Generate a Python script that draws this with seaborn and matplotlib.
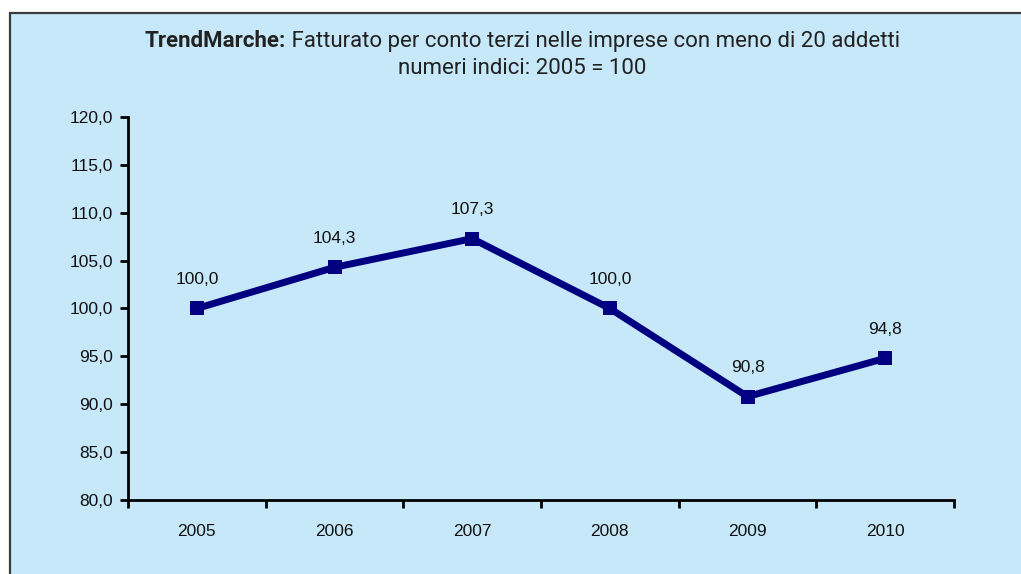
import matplotlib
matplotlib.use("Agg")
import matplotlib.pyplot as plt
from matplotlib.patches import Rectangle
from matplotlib.ticker import FuncFormatter
import pandas as pd
import seaborn as sns

years = ["2005", "2006", "2007", "2008", "2009", "2010"]
index_values = [100.0, 104.3, 107.3, 100.0, 90.8, 94.8]

title_bold = "TrendMarche:"
title_rest = "Fatturato per conto terzi nelle imprese con meno di 20 addetti"
subtitle = "numeri indici: 2005 = 100"

bg = "#C6E8F8"
navy = "#000080"

sns.set_theme(style="white")
plt.rcParams["font.family"] = ["Liberation Sans", "DejaVu Sans"]

df = pd.DataFrame({"anno": years, "indice": index_values})
df["pos"] = range(len(years))

fig = plt.figure(figsize=(10.21, 5.74), dpi=100)
fig.patch.set_facecolor("white")
fig.patches.append(Rectangle((10 / 1021, -0.05), 1.1, 1 - 13 / 574 + 0.05,
                             transform=fig.transFigure, facecolor=bg,
                             edgecolor="#3c3c3c", lw=1.6, zorder=-10))

ax = fig.add_axes([128 / 1021, 1 - 500 / 574, 826 / 1021, 383 / 574])
ax.set_facecolor("none")
ax.set_zorder(5)

sns.lineplot(data=df, x="pos", y="indice", ax=ax, color=navy, lw=5,
             marker="s", markersize=10, markeredgewidth=0, markerfacecolor=navy)

for x, y in zip(df["pos"], df["indice"]):
    ax.annotate(f"{y:.1f}".replace(".", ","), (x, y), xytext=(0, 21),
                textcoords="offset points", ha="center", va="center",
                fontsize=12.5, color="#111111")

ax.set_xlim(-0.5, len(years) - 0.5)
ax.set_ylim(80, 120)
ax.set_yticks(range(80, 121, 5))
ax.yaxis.set_major_formatter(FuncFormatter(lambda v, p: f"{v:.1f}".replace(".", ",")))

ax.set_xticks([i - 0.5 for i in range(len(years) + 1)])
ax.set_xticklabels([])
ax.set_xticks(range(len(years)), minor=True)
ax.set_xticklabels(years, minor=True)
ax.tick_params(axis="x", which="major", length=6, width=2, direction="out", color="black")
ax.tick_params(axis="x", which="minor", length=0, pad=17, labelsize=12.5, labelcolor="#111111")
ax.tick_params(axis="y", length=6, width=2, direction="out", color="black",
               labelsize=12.5, labelcolor="#111111", pad=5, left=True)
ax.tick_params(axis="x", which="major", bottom=True)

for side in ["top", "right"]:
    ax.spines[side].set_visible(False)
for side in ["left", "bottom"]:
    ax.spines[side].set_linewidth(2)
    ax.spines[side].set_color("black")

ax.set_xlabel("")
ax.set_ylabel("")

# title: bold lead-in plus regular text, centred as one line
tfont = ["Roboto", "DejaVu Sans"]
t1 = fig.text(0, 1 - 41 / 574, title_bold, fontsize=16, fontweight="bold",
              family=tfont, color="#222222", va="center", ha="left")
t2 = fig.text(0, 1 - 41 / 574, " " + title_rest, fontsize=16,
              family=tfont, color="#222222", va="center", ha="left")
fig.canvas.draw()
r = fig.canvas.get_renderer()
w1 = t1.get_window_extent(r).width
w2 = t2.get_window_extent(r).width
start = 522 - (w1 + w2) / 2
t1.set_x(start / 1021)
t2.set_x((start + w1) / 1021)
fig.text(522 / 1021, 1 - 69 / 574, subtitle, fontsize=16, family=tfont,
         color="#222222", va="center", ha="center")

fig.savefig("out.png", dpi=100, facecolor=fig.get_facecolor())
